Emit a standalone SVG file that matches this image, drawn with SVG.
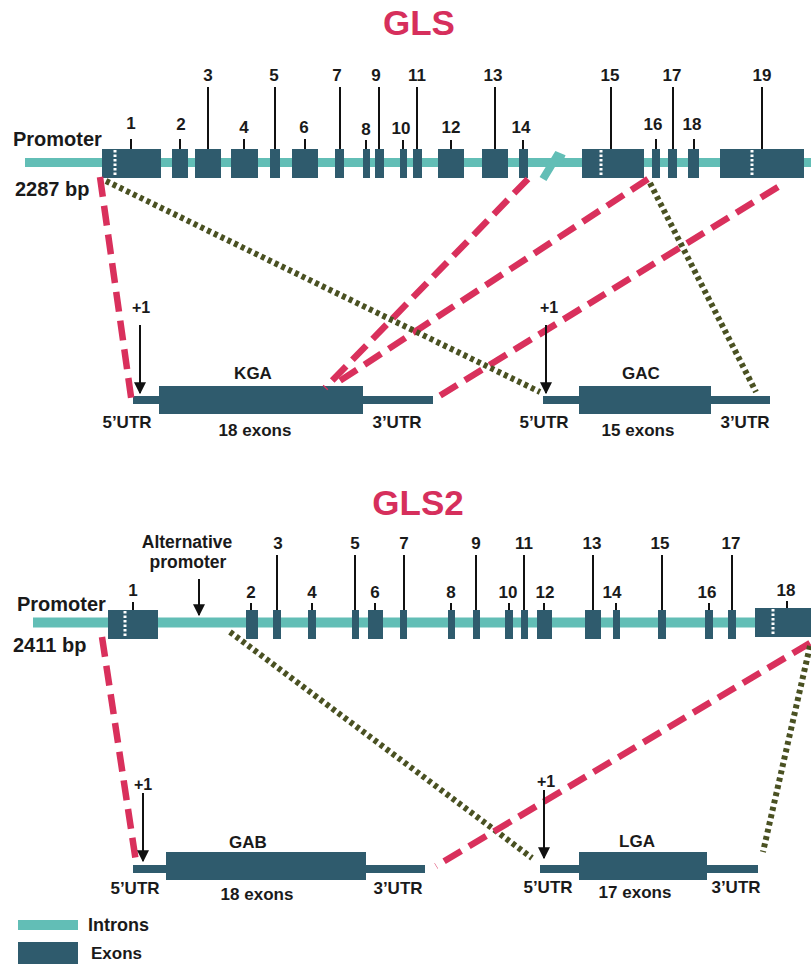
<svg xmlns="http://www.w3.org/2000/svg" width="811" height="964" viewBox="0 0 811 964">
<defs>
<style>
text{font-family:"Liberation Sans",Arial,sans-serif;font-weight:bold;fill:#1a1a1a}
.title{font-size:35px;fill:#d62f5c;text-anchor:middle}
.num{font-size:17px;text-anchor:middle}
.lbl{font-size:17px;text-anchor:middle}
.big{font-size:20px}
.intron{stroke:#62beb6;fill:none}
.exon{fill:#2f5b6d}
.tick{stroke:#111;stroke-width:2}
.dots{stroke:#fff;stroke-width:3;stroke-dasharray:2.5 2}
.red{stroke:#d9305c;stroke-width:6.5;stroke-dasharray:20 9;fill:none}
.olive{stroke:#4a5122;stroke-width:6;stroke-dasharray:4 3.5;fill:none}
.arr{stroke:#111;stroke-width:2}
</style>
<marker id="ah" viewBox="0 0 10 10" refX="9" refY="5" markerWidth="6" markerHeight="6" markerUnits="strokeWidth" orient="auto">
<path d="M0,0 L10,5 L0,10 z" fill="#111"/>
</marker>
</defs>
<rect width="811" height="964" fill="#fff"/>

<!-- GLS -->
<g id="gls-title"><text class="title" x="419" y="35">GLS</text></g>
<g id="gls-gene">
<line class="intron" x1="25" y1="162.5" x2="811" y2="162.5" stroke-width="9"/>
<polyline class="intron" points="543,179 557,156 564,159" stroke-width="8"/>
<text class="big" x="13" y="146">Promoter</text>
<text class="big" x="15" y="196">2287 bp</text>
<g id="gls-e1"><rect class="exon" x="102" y="149" width="59" height="29"/><line class="dots" x1="115" y1="150" x2="115" y2="177"/><line class="tick" x1="131" y1="139" x2="131" y2="149"/><text class="num" x="131" y="129">1</text></g>
<g id="gls-e2"><rect class="exon" x="172" y="149" width="16" height="29"/><line class="tick" x1="180" y1="139" x2="180" y2="149"/><text class="num" x="181" y="130">2</text></g>
<g id="gls-e3"><rect class="exon" x="195" y="149" width="26" height="29"/><line class="tick" x1="208" y1="87" x2="208" y2="149"/><text class="num" x="208" y="81">3</text></g>
<g id="gls-e4"><rect class="exon" x="231" y="149" width="27" height="29"/><line class="tick" x1="244" y1="139" x2="244" y2="149"/><text class="num" x="244" y="133">4</text></g>
<g id="gls-e5"><rect class="exon" x="270" y="149" width="10" height="29"/><line class="tick" x1="275" y1="87" x2="275" y2="149"/><text class="num" x="274" y="81">5</text></g>
<g id="gls-e6"><rect class="exon" x="292" y="149" width="26" height="29"/><line class="tick" x1="305" y1="139" x2="305" y2="149"/><text class="num" x="304" y="133">6</text></g>
<g id="gls-e7"><rect class="exon" x="335" y="149" width="9" height="29"/><line class="tick" x1="340" y1="87" x2="340" y2="149"/><text class="num" x="337" y="81">7</text></g>
<g id="gls-e8"><rect class="exon" x="363" y="149" width="7" height="29"/><line class="tick" x1="366" y1="140" x2="366" y2="149"/><text class="num" x="366" y="135">8</text></g>
<g id="gls-e9"><rect class="exon" x="375" y="149" width="9" height="29"/><line class="tick" x1="379" y1="87" x2="379" y2="149"/><text class="num" x="376" y="81">9</text></g>
<g id="gls-e10"><rect class="exon" x="400" y="149" width="7" height="29"/><line class="tick" x1="403" y1="140" x2="403" y2="149"/><text class="num" x="401" y="134">10</text></g>
<g id="gls-e11"><rect class="exon" x="413" y="149" width="9" height="29"/><line class="tick" x1="417" y1="87" x2="417" y2="149"/><text class="num" x="417" y="81">11</text></g>
<g id="gls-e12"><rect class="exon" x="438" y="149" width="26" height="29"/><line class="tick" x1="451" y1="140" x2="451" y2="149"/><text class="num" x="451" y="133">12</text></g>
<g id="gls-e13"><rect class="exon" x="482" y="149" width="26" height="29"/><line class="tick" x1="495" y1="87" x2="495" y2="149"/><text class="num" x="493" y="81">13</text></g>
<g id="gls-e14"><rect class="exon" x="519" y="149" width="9" height="29"/><line class="tick" x1="523" y1="140" x2="523" y2="149"/><text class="num" x="521" y="133">14</text></g>
<g id="gls-e15"><rect class="exon" x="582" y="149" width="62" height="29"/><line class="dots" x1="601" y1="150" x2="601" y2="177"/><line class="tick" x1="611" y1="87" x2="611" y2="149"/><text class="num" x="610" y="81">15</text></g>
<g id="gls-e16"><rect class="exon" x="652" y="149" width="8" height="29"/><line class="tick" x1="656" y1="139" x2="656" y2="149"/><text class="num" x="653" y="130">16</text></g>
<g id="gls-e17"><rect class="exon" x="668" y="149" width="9" height="29"/><line class="tick" x1="673" y1="87" x2="673" y2="149"/><text class="num" x="672" y="81">17</text></g>
<g id="gls-e18"><rect class="exon" x="688" y="149" width="11" height="29"/><line class="tick" x1="694" y1="139" x2="694" y2="149"/><text class="num" x="692" y="130">18</text></g>
<g id="gls-e19"><rect class="exon" x="720" y="149" width="84" height="29"/><line class="dots" x1="752" y1="150" x2="752" y2="177"/><line class="tick" x1="762" y1="87" x2="762" y2="149"/><text class="num" x="762" y="81">19</text></g>
</g>

<g id="kga">
<rect class="exon" x="133" y="396" width="300" height="8"/>
<rect class="exon" x="159" y="386" width="204" height="28"/>
<text class="lbl" x="253" y="379">KGA</text>
<text class="lbl" x="127" y="428">5’UTR</text>
<text class="lbl" x="255" y="436">18 exons</text>
<text class="lbl" x="397" y="428">3’UTR</text>
</g>
<g id="gac">
<rect class="exon" x="543" y="396" width="227" height="8"/>
<rect class="exon" x="579" y="386" width="132" height="28"/>
<text class="lbl" x="641" y="379">GAC</text>
<text class="lbl" x="544" y="428">5’UTR</text>
<text class="lbl" x="638" y="436">15 exons</text>
<text class="lbl" x="745" y="428">3’UTR</text>
</g>

<!-- GLS2 -->
<g id="gls2-title"><text class="title" x="418" y="515">GLS2</text></g>
<g id="gls2-gene">
<line class="intron" x1="33" y1="622.5" x2="811" y2="622.5" stroke-width="10"/>
<text class="big" x="17" y="611">Promoter</text>
<text class="big" x="13" y="652">2411 bp</text>
<text class="lbl" x="187" y="548" style="font-size:17.5px">Alternative</text>
<text class="lbl" x="188" y="568" style="font-size:17.5px">promoter</text>
<g id="gls2-e1"><rect class="exon" x="108" y="610" width="50" height="29"/><line class="dots" x1="125" y1="611" x2="125" y2="638"/><line class="tick" x1="133" y1="602" x2="133" y2="610"/><text class="num" x="133" y="596">1</text></g>
<g id="gls2-e2"><rect class="exon" x="246" y="610" width="12" height="29"/><line class="tick" x1="251" y1="603" x2="251" y2="610"/><text class="num" x="251" y="598">2</text></g>
<g id="gls2-e3"><rect class="exon" x="273" y="610" width="8" height="29"/><line class="tick" x1="277" y1="555" x2="277" y2="610"/><text class="num" x="278" y="549">3</text></g>
<g id="gls2-e4"><rect class="exon" x="308" y="610" width="8" height="29"/><line class="tick" x1="312" y1="603" x2="312" y2="610"/><text class="num" x="312" y="598">4</text></g>
<g id="gls2-e5"><rect class="exon" x="352" y="610" width="7" height="29"/><line class="tick" x1="355" y1="555" x2="355" y2="610"/><text class="num" x="355" y="549">5</text></g>
<g id="gls2-e6"><rect class="exon" x="368" y="610" width="15" height="29"/><line class="tick" x1="375" y1="603" x2="375" y2="610"/><text class="num" x="375" y="598">6</text></g>
<g id="gls2-e7"><rect class="exon" x="400" y="610" width="7" height="29"/><line class="tick" x1="404" y1="555" x2="404" y2="610"/><text class="num" x="404" y="549">7</text></g>
<g id="gls2-e8"><rect class="exon" x="448" y="610" width="7" height="29"/><line class="tick" x1="451" y1="603" x2="451" y2="610"/><text class="num" x="451" y="598">8</text></g>
<g id="gls2-e9"><rect class="exon" x="473" y="610" width="7" height="29"/><line class="tick" x1="476" y1="555" x2="476" y2="610"/><text class="num" x="476" y="549">9</text></g>
<g id="gls2-e10"><rect class="exon" x="505" y="610" width="8" height="29"/><line class="tick" x1="509" y1="603" x2="509" y2="610"/><text class="num" x="508" y="598">10</text></g>
<g id="gls2-e11"><rect class="exon" x="521" y="610" width="7" height="29"/><line class="tick" x1="524" y1="555" x2="524" y2="610"/><text class="num" x="524" y="549">11</text></g>
<g id="gls2-e12"><rect class="exon" x="537" y="610" width="15" height="29"/><line class="tick" x1="544" y1="603" x2="544" y2="610"/><text class="num" x="545" y="598">12</text></g>
<g id="gls2-e13"><rect class="exon" x="585" y="610" width="16" height="29"/><line class="tick" x1="593" y1="555" x2="593" y2="610"/><text class="num" x="592" y="549">13</text></g>
<g id="gls2-e14"><rect class="exon" x="613" y="610" width="7" height="29"/><line class="tick" x1="616" y1="603" x2="616" y2="610"/><text class="num" x="612" y="598">14</text></g>
<g id="gls2-e15"><rect class="exon" x="658" y="610" width="8" height="29"/><line class="tick" x1="662" y1="555" x2="662" y2="610"/><text class="num" x="660" y="549">15</text></g>
<g id="gls2-e16"><rect class="exon" x="705" y="610" width="8" height="29"/><line class="tick" x1="709" y1="603" x2="709" y2="610"/><text class="num" x="707" y="598">16</text></g>
<g id="gls2-e17"><rect class="exon" x="728" y="610" width="8" height="29"/><line class="tick" x1="732" y1="555" x2="732" y2="610"/><text class="num" x="731" y="549">17</text></g>
<g id="gls2-e18"><rect class="exon" x="755" y="608" width="56" height="29"/><line class="dots" x1="773" y1="609" x2="773" y2="636"/><line class="tick" x1="787" y1="601" x2="787" y2="608"/><text class="num" x="786" y="596">18</text></g>
</g>

<g id="gab">
<rect class="exon" x="133" y="865" width="292" height="8"/>
<rect class="exon" x="166" y="852" width="200" height="28"/>
<text class="lbl" x="248" y="848">GAB</text>
<text class="lbl" x="135" y="894">5’UTR</text>
<text class="lbl" x="257" y="900">18 exons</text>
<text class="lbl" x="398" y="894">3’UTR</text>
</g>
<g id="lga">
<rect class="exon" x="540" y="865" width="218" height="8"/>
<rect class="exon" x="579" y="852" width="128" height="28"/>
<text class="lbl" x="637" y="847">LGA</text>
<text class="lbl" x="548" y="893">5’UTR</text>
<text class="lbl" x="635" y="898">17 exons</text>
<text class="lbl" x="736" y="893">3’UTR</text>
</g>

<g id="connectors">
<line class="red" x1="100" y1="177" x2="132" y2="404"/>
<line class="red" x1="528" y1="179" x2="325" y2="388"/>
<line class="red" x1="648" y1="179" x2="335" y2="384"/>
<line class="red" x1="778" y1="187" x2="433" y2="400"/>
<line class="olive" x1="106" y1="181" x2="540" y2="392"/>
<line class="olive" x1="650" y1="183" x2="756" y2="392"/>
<line class="red" x1="102" y1="637" x2="136" y2="862"/>
<line class="olive" x1="230" y1="632" x2="532" y2="858"/>
<line class="red" x1="810" y1="643" x2="436" y2="866"/>
<line class="olive" x1="810" y1="646" x2="763" y2="852"/>
</g>

<g id="tss-arrows">
<text class="lbl" x="141" y="313" style="font-size:16px">+1</text>
<line class="arr" x1="140" y1="325" x2="140" y2="393" marker-end="url(#ah)"/>
<text class="lbl" x="549" y="313" style="font-size:16px">+1</text>
<line class="arr" x1="546" y1="325" x2="546" y2="393" marker-end="url(#ah)"/>
<text class="lbl" x="143" y="790" style="font-size:16px">+1</text>
<line class="arr" x1="143" y1="793" x2="143" y2="861" marker-end="url(#ah)"/>
<text class="lbl" x="546" y="787" style="font-size:16px">+1</text>
<line class="arr" x1="544" y1="790" x2="544" y2="858" marker-end="url(#ah)"/>
<line class="arr" x1="199" y1="579" x2="199" y2="615" marker-end="url(#ah)"/>
</g>

<g id="legend">
<rect x="18" y="920" width="60" height="10" fill="#62beb6"/>
<text x="88" y="931" style="font-size:18px">Introns</text>
<rect class="exon" x="18" y="942" width="60" height="22"/>
<text x="91" y="959" style="font-size:17px">Exons</text>
</g>
</svg>
